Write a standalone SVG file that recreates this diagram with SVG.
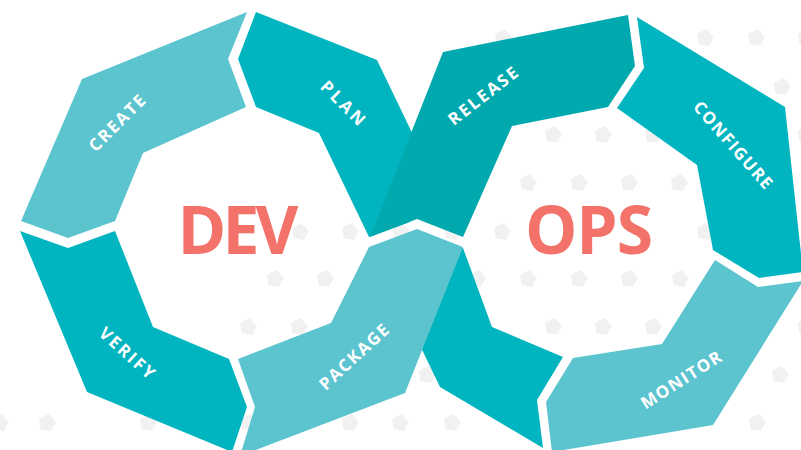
<svg xmlns="http://www.w3.org/2000/svg" xmlns:xlink="http://www.w3.org/1999/xlink" width="801" height="450" viewBox="0 0 801 450">
  <style>
    .light { fill: #5BC4CF; }
    .mid { fill: #00B5BF; }
    .dark { fill: #00A9AE; }
    .lbl { font-family: "Open Sans", "Liberation Sans", sans-serif; font-weight: 700; font-size: 17px; fill: #FFFFFF; text-anchor: middle; }
    .big { font-family: "Open Sans", "Liberation Sans", sans-serif; font-weight: 700; font-size: 66px; fill: #F3736A; text-anchor: middle; }
    .pt { fill: #F1F1F1; }
  </style>
  <defs>
    <polygon id="pent" points="1.6,-8.9 8.9,-1.3 4,8.1 -6.5,6.3 -8,-4.2"/>
  </defs>
  <rect width="801" height="450" fill="#FFFFFF"/>
  <g id="background-dots" class="pt">
    <use xlink:href="#pent" x="503" y="38"/>
    <use xlink:href="#pent" x="705" y="38"/>
    <use xlink:href="#pent" x="756" y="38"/>
    <use xlink:href="#pent" x="806" y="38"/>
    <use xlink:href="#pent" x="782" y="87"/>
    <use xlink:href="#pent" x="553" y="135"/>
    <use xlink:href="#pent" x="603" y="135"/>
    <use xlink:href="#pent" x="653" y="135"/>
    <use xlink:href="#pent" x="806" y="135"/>
    <use xlink:href="#pent" x="528" y="183"/>
    <use xlink:href="#pent" x="579" y="183"/>
    <use xlink:href="#pent" x="629" y="183"/>
    <use xlink:href="#pent" x="679" y="183"/>
    <use xlink:href="#pent" x="300" y="232"/>
    <use xlink:href="#pent" x="350" y="232"/>
    <use xlink:href="#pent" x="401" y="232"/>
    <use xlink:href="#pent" x="452" y="232"/>
    <use xlink:href="#pent" x="502" y="232"/>
    <use xlink:href="#pent" x="705" y="232"/>
    <use xlink:href="#pent" x="275" y="279"/>
    <use xlink:href="#pent" x="325" y="279"/>
    <use xlink:href="#pent" x="477" y="279"/>
    <use xlink:href="#pent" x="528" y="279"/>
    <use xlink:href="#pent" x="579" y="279"/>
    <use xlink:href="#pent" x="629" y="279"/>
    <use xlink:href="#pent" x="680" y="279"/>
    <use xlink:href="#pent" x="248" y="327"/>
    <use xlink:href="#pent" x="299" y="327"/>
    <use xlink:href="#pent" x="553" y="327"/>
    <use xlink:href="#pent" x="603" y="327"/>
    <use xlink:href="#pent" x="653" y="327"/>
    <use xlink:href="#pent" x="806" y="327"/>
    <use xlink:href="#pent" x="427" y="375"/>
    <use xlink:href="#pent" x="780" y="375"/>
    <use xlink:href="#pent" x="0" y="423"/>
    <use xlink:href="#pent" x="47" y="423"/>
    <use xlink:href="#pent" x="148" y="423"/>
    <use xlink:href="#pent" x="249" y="423"/>
    <use xlink:href="#pent" x="350" y="423"/>
    <use xlink:href="#pent" x="400" y="423"/>
    <use xlink:href="#pent" x="452" y="423"/>
    <use xlink:href="#pent" x="757" y="423"/>
  </g>
  <g id="plan">
    <polygon class="mid" points="256,12 377,60 430,170 410,222 369,237 319,133 256,107 238,59"/>
    <polygon class="mid" points="440,250 463,248 492,327 563,357 537,400 543,448 440,387 400,304"/>
    <text class="lbl" transform="translate(343,103) rotate(45)" dy="0.35em" textLength="55" lengthAdjust="spacing">PLAN</text>
  </g>
  <g id="create">
    <polygon class="light" points="247,12 228,59 246,107 143,153 115,221 68,238 21,221 82,79"/>
    <text class="lbl" transform="translate(117,123) rotate(-45)" dy="0.35em" textLength="72" lengthAdjust="spacing">CREATE</text>
  </g>
  <g id="verify">
    <polygon class="mid" points="20,231 68,248 115,231 153,327 229,359 247,407 232,452 87,392"/>
    <text class="lbl" transform="translate(127,353) rotate(42)" dy="0.35em" textLength="68" lengthAdjust="spacing">VERIFY</text>
  </g>
  <g id="configure">
    <polygon class="mid" points="637,17 785,107 803,272 759,278 713,250 697,165 617,108 644,68"/>
    <text class="lbl" transform="translate(733,145) rotate(48.7)" dy="0.35em" textLength="110" lengthAdjust="spacing">CONFIGURE</text>
  </g>
  <g id="monitor">
    <polygon class="light" points="573,358 662,344 715,260 758,287 803,281 713,425 552,452 546,402"/>
    <text class="lbl" transform="translate(681,380) rotate(-32.5)" dy="0.35em" textLength="92" lengthAdjust="spacing">MONITOR</text>
  </g>
  <g id="release">
    <polygon class="dark" points="443,52 628,15 635,66 608,107 512,126 463,237 417,219 370,237"/>
    <text class="lbl" transform="translate(483,96) rotate(-37.8)" dy="0.35em" textLength="83" lengthAdjust="spacing">RELEASE</text>
  </g>
  <g id="package">
    <polygon class="light" points="369,247 417,229 463,247 405,393 240,456 255,407 238,359 331,323"/>
    <text class="lbl" transform="translate(354,357) rotate(-42.7)" dy="0.35em" textLength="88" lengthAdjust="spacing">PACKAGE</text>
  </g>
  <g id="dev">
    <text class="big" x="238" y="254" textLength="121" lengthAdjust="spacing">DEV</text>
  </g>
  <g id="ops">
    <text class="big" x="589" y="254" textLength="128" lengthAdjust="spacing">OPS</text>
  </g>
</svg>
